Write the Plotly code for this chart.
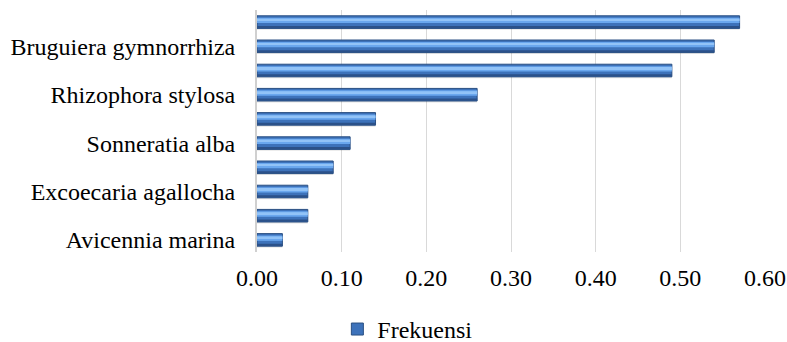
import plotly.graph_objects as go

# Species listed bottom-to-top as they appear on the chart
species = [
    "Avicennia marina",
    "Lumnitzera racemosa",
    "Excoecaria agallocha",
    "Xylocarpus granatum",
    "Sonneratia alba",
    "Ceriops tagal",
    "Rhizophora stylosa",
    "Rhizophora mucronata",
    "Bruguiera gymnorrhiza",
    "Rhizophora apiculata",
]
frekuensi = [0.03, 0.06, 0.06, 0.09, 0.11, 0.14, 0.26, 0.49, 0.54, 0.57]

# Only every other category name is printed on the axis
shown_labels = species[0::2]

FONT = "Liberation Serif"

fig = go.Figure()

# soft drop shadow under each bar
fig.add_trace(go.Bar(
    y=species, x=frekuensi, orientation="h",
    offset=-0.32, width=0.5,
    marker=dict(color="rgba(0,0,0,0.10)", line=dict(width=0)),
    showlegend=False, hoverinfo="skip",
))
# main bar body (darker lower half)
fig.add_trace(go.Bar(
    y=species, x=frekuensi, orientation="h",
    offset=-0.26, width=0.52, name="Frekuensi",
    marker=dict(color="#3D72BA", line=dict(color="#2A4F82", width=1)),
    showlegend=True,
))
# lighter upper band
fig.add_trace(go.Bar(
    y=species, x=frekuensi, orientation="h",
    offset=-0.04, width=0.22,
    marker=dict(color="#6AA7EE", line=dict(width=0)),
    showlegend=False, hoverinfo="skip",
))
# thin highlight along the top edge
fig.add_trace(go.Bar(
    y=species, x=frekuensi, orientation="h",
    offset=0.06, width=0.08,
    marker=dict(color="#92C3F7", line=dict(width=0)),
    showlegend=False, hoverinfo="skip",
))
# darker band along the bottom edge
fig.add_trace(go.Bar(
    y=species, x=frekuensi, orientation="h",
    offset=-0.25, width=0.09,
    marker=dict(color="#2B5189", line=dict(width=0)),
    showlegend=False, hoverinfo="skip",
))

fig.update_layout(
    width=787, height=342,
    margin=dict(l=257, r=22, t=10, b=90, autoexpand=False),
    paper_bgcolor="white", plot_bgcolor="white",
    barmode="overlay",
    font=dict(family=FONT, size=24, color="#000000"),
    legend=dict(
        orientation="h", x=0.296, y=-0.32,
        xanchor="center", yanchor="middle",
        font=dict(family=FONT, size=24),
        itemwidth=30,
    ),
    xaxis=dict(
        range=[0, 0.6], dtick=0.1, tickformat=".2f",
        showgrid=True, gridcolor="#D9D9D9", gridwidth=1,
        zeroline=False, showline=False,
        ticks="outside", ticklen=4, tickcolor="rgba(0,0,0,0)",
        automargin=False, fixedrange=True,
    ),
    yaxis=dict(
        categoryorder="array", categoryarray=species,
        tickmode="array", tickvals=shown_labels, ticktext=shown_labels,
        showline=True, linecolor="#D0D0D0", linewidth=2,
        showgrid=False, zeroline=False,
        ticks="outside", ticklen=15, tickcolor="rgba(0,0,0,0)",
        range=[-0.5, 9.5],
        automargin=False, fixedrange=True,
    ),
)

fig.write_html("out.html")
